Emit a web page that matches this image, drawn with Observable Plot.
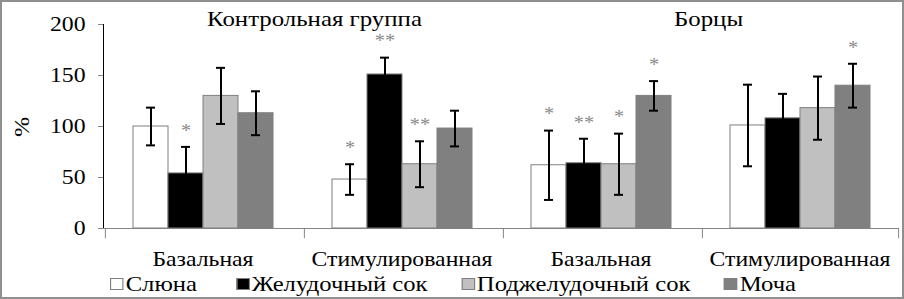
<!DOCTYPE html>
<html><head><meta charset="utf-8">
<script src="https://cdn.jsdelivr.net/npm/d3@7"></script>
<script src="https://cdn.jsdelivr.net/npm/@observablehq/plot@0.6"></script>
<style>
html,body{margin:0;padding:0;background:#fff}
#wrap{position:relative;width:904px;height:299px;overflow:hidden;font-family:'Liberation Serif', serif;background:#fff}
#chart{position:absolute;left:0;top:0}
#frame{position:absolute;left:0;top:0;width:904px;height:299px;box-sizing:border-box;border:2px solid #8f8f8f;pointer-events:none}
#ylabel{position:absolute;left:22px;top:127px;transform:translate(-50%,-50%) rotate(-90deg) scaleX(1.1);font-size:22px;color:#000;line-height:1}
#legend{position:absolute;left:110px;top:272px;display:flex;align-items:center;font-size:22px;line-height:24px;color:#000;white-space:nowrap;transform:scaleX(1.12);transform-origin:0 50%}
#legend .item{display:flex;align-items:center;margin-right:30px}
#legend .item:first-child{margin-right:35px}
#legend .sw{width:12px;height:12px;box-sizing:border-box;border:1px solid #7f7f7f;margin-right:2px}
#chart svg g[aria-label^="y-axis"] path, #chart svg g[aria-label^="y-axis"] line{stroke:#868686}
</style>
</head><body>
<div id="wrap"><div id="chart"></div><div id="ylabel">%</div><div id="legend"></div><div id="frame"></div></div>
<script>
// ---- data ----
const groups = ["Контрольная группа", "Борцы"];
const conditions = ["Базальная", "Стимулированная"];
const series = ["Слюна", "Желудочный сок", "Поджелудочный сок", "Моча"];
const colors = ["#ffffff", "#000000", "#c0c0c0", "#808080"];
const yTicks = [0, 50, 100, 150, 200];
// means per panel (group x condition), in series order
const meansCtrlBasal = [100, 54, 130, 113];
const meansCtrlStim  = [48, 151, 63, 98];
const meansWrBasal   = [62, 64, 63, 130];
const meansWrStim    = [101, 108, 118, 140];
const errCtrlBasal = [18.5, 26, 27.5, 21.5];
const errCtrlStim  = [15, 16.5, 22.5, 17.5];
const errWrBasal   = [34, 24, 30, 14.5];
const errWrStim    = [40, 24, 31, 21.5];
const starsCtrlBasal = ["", "*", "", ""];
const starsCtrlStim  = ["*", "**", "**", ""];
const starsWrBasal   = ["*", "**", "*", "*"];
const starsWrStim    = ["", "", "", "*"];

// ---- table ----
const panels = [
  {g: 0, c: 0, m: meansCtrlBasal, e: errCtrlBasal, s: starsCtrlBasal},
  {g: 0, c: 1, m: meansCtrlStim, e: errCtrlStim, s: starsCtrlStim},
  {g: 1, c: 0, m: meansWrBasal, e: errWrBasal, s: starsWrBasal},
  {g: 1, c: 1, m: meansWrStim, e: errWrStim, s: starsWrStim}
];
const keyOf = (g, c) => groups[g] + "|" + conditions[c];
const facetKeys = panels.map(p => keyOf(p.g, p.c));
const rows = [];
for (const p of panels) series.forEach((s, i) => rows.push({
  key: keyOf(p.g, p.c), series: s, mean: p.m[i], err: p.e[i], star: p.s[i]
}));

// ---- layout ----
const W = 904, H = 270, ML = 102, MR = 5, MT = 24, MB = H - 228;
const padOuter = 0.767;
const facetW = (W - ML - MR) / facetKeys.length;
const step = facetW / (series.length + 2 * padOuter);
const edgeOff = padOuter * step + step / 2;
const grey = "#868686";
const stretch = 1.13;

const chart = Plot.plot({
  width: W, height: H,
  marginLeft: ML, marginRight: MR, marginTop: MT, marginBottom: MB,
  style: {fontFamily: "Liberation Serif, serif", fontSize: "21px", background: "transparent", color: "#000", overflow: "visible"},
  fx: {domain: facetKeys, padding: 0, label: null, tickSize: 0, tickPadding: 23, tickFormat: d => d.split("|")[1]},
  x: {domain: series, paddingInner: 0, paddingOuter: padOuter, axis: null},
  y: {domain: [0, 200], ticks: yTicks, tickSize: 5, tickPadding: 13, label: null, line: true},
  color: {domain: series, range: colors},
  marks: [
    Plot.ruleY([0], {stroke: grey}),
    Plot.ruleX(facetKeys, {fx: d => d, x: () => series[0], y1: 0, y2: -10, dx: -edgeOff, stroke: grey}),
    Plot.ruleX(facetKeys.slice(-1), {fx: d => d, x: () => series[series.length - 1], y1: 0, y2: -10, dx: edgeOff, stroke: grey}),
    Plot.barY(rows, {fx: "key", x: "series", y: "mean", fill: "series", stroke: "#7f7f7f", strokeWidth: 1}),
    Plot.ruleX(rows, {fx: "key", x: "series", y1: d => d.mean - d.err, y2: d => d.mean + d.err, stroke: "#000", strokeWidth: 2}),
    Plot.tickY(rows, {fx: "key", x: "series", y: d => d.mean + d.err, stroke: "#000", strokeWidth: 2, inset: 13}),
    Plot.tickY(rows, {fx: "key", x: "series", y: d => d.mean - d.err, stroke: "#000", strokeWidth: 2, inset: 13}),
    Plot.text(rows.filter(d => d.star), {fx: "key", x: "series", y: d => d.mean + d.err, text: "star", dy: -16, fill: "#8a8a8a", fontSize: 18}),
    Plot.text([{key: keyOf(0, 1), label: groups[0]}], {fx: "key", text: "label", frameAnchor: "top-left", textAnchor: "middle", lineAnchor: "middle", dx: 12, dy: -6, fontSize: 22}),
    Plot.text([{key: keyOf(1, 1), label: groups[1]}], {fx: "key", text: "label", frameAnchor: "top-left", textAnchor: "middle", lineAnchor: "middle", dx: 8, dy: -6, fontSize: 22})
  ]
});
document.getElementById("chart").appendChild(chart);

// widen glyphs slightly, as in the reference
for (const t of chart.querySelectorAll("text")) {
  const w = t.getComputedTextLength();
  if (w > 0) { t.setAttribute("textLength", w * stretch); t.setAttribute("lengthAdjust", "spacingAndGlyphs"); }
}

const legend = document.getElementById("legend");
series.forEach((s, i) => {
  const it = document.createElement("div"); it.className = "item";
  const sw = document.createElement("span"); sw.className = "sw"; sw.style.background = colors[i];
  const t = document.createElement("span"); t.textContent = s;
  it.appendChild(sw); it.appendChild(t); legend.appendChild(it);
});
</script>
</body></html>
